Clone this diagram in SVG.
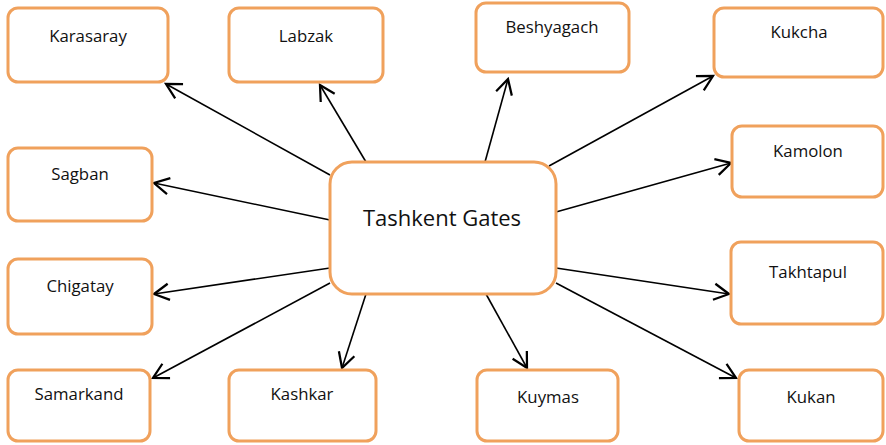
<svg xmlns="http://www.w3.org/2000/svg" width="886" height="445" viewBox="0 0 886 445">
<style>
.box{fill:#fff;stroke:#F0A15C;stroke-width:3}
.lbl{font-family:"Open Sans","Liberation Sans",sans-serif;font-size:16.8px;fill:#111;text-anchor:middle}
.big{font-size:22px}
.c{stroke:#000;stroke-width:1.6;fill:none;marker-end:url(#a)}
</style>
<defs>
<marker id="a" markerUnits="userSpaceOnUse" markerWidth="20" markerHeight="20" viewBox="-14 -8 16 16" refX="0" refY="0" orient="auto">
<path d="M-12,-6.5 L0,0 L-12,6.5" fill="none" stroke="#000" stroke-width="1.8"/>
</marker>
</defs>
<rect width="886" height="445" fill="#fff"/>
<g id="connectors">
<line class="c" x1="330" y1="175" x2="166" y2="84"/>
<line class="c" x1="366" y1="162" x2="320" y2="85"/>
<line class="c" x1="330" y1="220" x2="154" y2="183"/>
<line class="c" x1="485" y1="162" x2="508" y2="79"/>
<line class="c" x1="549" y1="166" x2="713" y2="76"/>
<line class="c" x1="556" y1="212" x2="731" y2="163"/>
<line class="c" x1="330" y1="268" x2="154" y2="294"/>
<line class="c" x1="330" y1="283" x2="153" y2="378"/>
<line class="c" x1="366" y1="294" x2="342" y2="368"/>
<line class="c" x1="486" y1="294" x2="527" y2="368"/>
<line class="c" x1="556" y1="268" x2="729" y2="294"/>
<line class="c" x1="556" y1="283" x2="736" y2="378"/>
</g>
<g id="center"><rect class="box" x="330" y="162" width="226" height="132" rx="22"/><text class="lbl big" x="442" y="226">Tashkent Gates</text></g>
<g id="karasaray"><rect class="box" x="8" y="8" width="160" height="74" rx="10"/><text class="lbl" x="88" y="42">Karasaray</text></g>
<g id="labzak"><rect class="box" x="229" y="8" width="154" height="74" rx="10"/><text class="lbl" x="306" y="42">Labzak</text></g>
<g id="beshyagach"><rect class="box" x="476" y="3" width="153" height="69" rx="10"/><text class="lbl" x="552" y="33">Beshyagach</text></g>
<g id="kukcha"><rect class="box" x="714" y="8" width="169" height="69" rx="10"/><text class="lbl" x="799" y="38">Kukcha</text></g>
<g id="sagban"><rect class="box" x="8" y="148" width="144" height="73" rx="10"/><text class="lbl" x="80" y="180">Sagban</text></g>
<g id="kamolon"><rect class="box" x="732" y="126" width="151" height="71" rx="10"/><text class="lbl" x="808" y="157">Kamolon</text></g>
<g id="chigatay"><rect class="box" x="8" y="259" width="144" height="75" rx="10"/><text class="lbl" x="80" y="292">Chigatay</text></g>
<g id="takhtapul"><rect class="box" x="731" y="242" width="152" height="82" rx="10"/><text class="lbl" x="808" y="278">Takhtapul</text></g>
<g id="samarkand"><rect class="box" x="8" y="370" width="142" height="71" rx="10"/><text class="lbl" x="79" y="400">Samarkand</text></g>
<g id="kashkar"><rect class="box" x="229" y="370" width="147" height="71" rx="10"/><text class="lbl" x="302" y="400">Kashkar</text></g>
<g id="kuymas"><rect class="box" x="477" y="370" width="141" height="71" rx="10"/><text class="lbl" x="548" y="403">Kuymas</text></g>
<g id="kukan"><rect class="box" x="739" y="370" width="144" height="71" rx="10"/><text class="lbl" x="811" y="403">Kukan</text></g>
</svg>
